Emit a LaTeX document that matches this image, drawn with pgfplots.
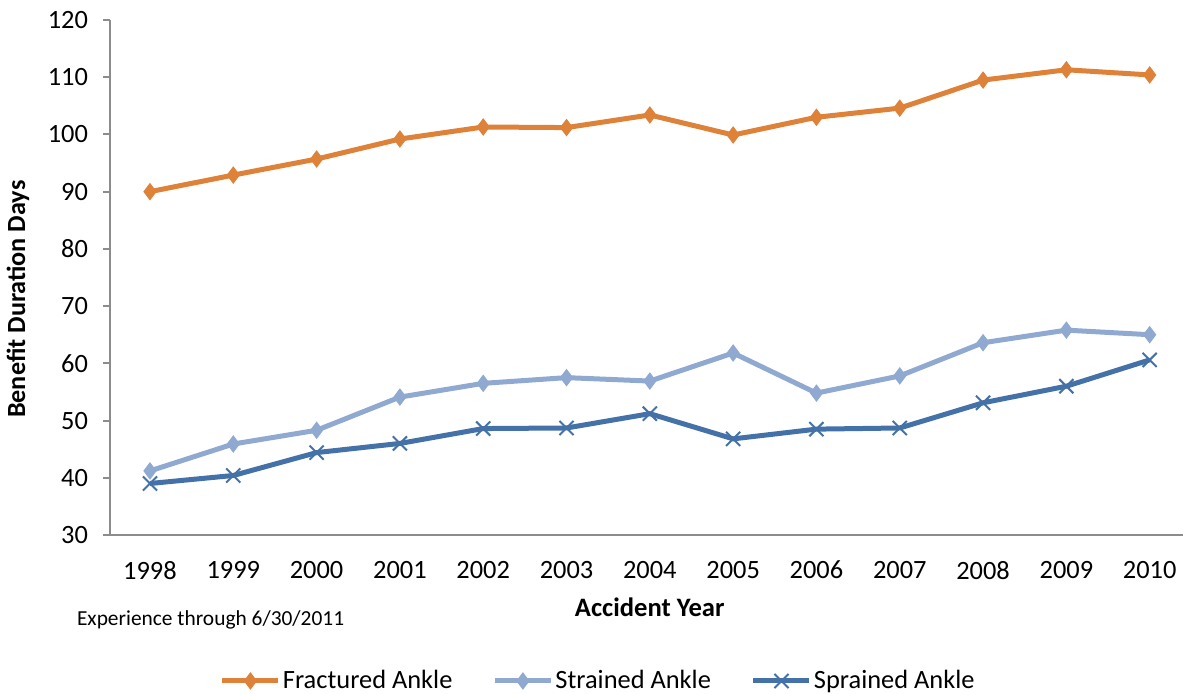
\documentclass[border=0pt]{standalone}
\usepackage{fontspec}
\setmainfont{Carlito}
\usepackage{pgfplots}
\pgfplotsset{compat=1.18}
\definecolor{cOr}{HTML}{DE8139}
\definecolor{cLb}{HTML}{8FA9D1}
\definecolor{cDb}{HTML}{4471A8}
\definecolor{cAx}{HTML}{8C8C8C}
\begin{document}
\begin{tikzpicture}
\begin{axis}[
  at={(0,0)}, anchor=south west, scale only axis,
  width=536.5pt, height=257.5pt,
  xmin=-0.48, xmax=12.4, ymin=30, ymax=120,
  ytick={30,40,...,120},
  xtick={0,...,12},
  xticklabels={1998,1999,2000,2001,2002,2003,2004,2005,2006,2007,2008,2009,2010},
  axis x line*=bottom, axis y line*=left,
  axis line style={cAx, line width=1pt, -},
  tick align=outside, major tick length=3.5pt,
  ytick style={cAx, line width=1pt},
  xtick style={draw=none},
  tick label style={font=\fontsize{13.2}{15}\selectfont, black},
  /pgf/number format/assume math mode=true,
  yticklabel style={xshift=-4pt},
  xticklabel style={yshift=-6pt},
  xlabel={Accident Year},
  ylabel={Benefit Duration Days},
  xlabel style={font=\bfseries\fontsize{13.3}{15}\selectfont, at={(axis description cs:0.503,-0.14)}, anchor=center},
  ylabel style={font=\bfseries\fontsize{13.1}{15}\selectfont, at={(axis description cs:-0.0857,0.458)}, anchor=center},
  clip=false,
  legend columns=3,
  legend style={draw=none, at={(axis description cs:0.455,-0.2835)}, anchor=center,
    font=\fontsize{13.2}{15}\selectfont,
    nodes={inner xsep=1pt},
    /tikz/every even column/.append style={column sep=19pt}},
  legend image code/.code={\draw[#1, mark repeat=2, mark phase=2] plot coordinates {(0pt,0pt)(14pt,0pt)(28pt,0pt)};},
]
\addplot[cOr, line width=2.5pt, mark=diamond*, mark size=4pt, mark options={solid, line width=0.5pt, fill=cOr}] coordinates {
(0,90.0)(1,92.9)(2,95.7)(3,99.2)(4,101.3)(5,101.2)(6,103.4)(7,99.9)(8,103.0)(9,104.6)(10,109.5)(11,111.3)(12,110.4)};
\addlegendentry{Fractured Ankle}
\addplot[cLb, line width=2.5pt, mark=diamond*, mark size=4pt, mark options={solid, line width=0.5pt, fill=cLb}] coordinates {
(0,41.2)(1,45.9)(2,48.3)(3,54.1)(4,56.5)(5,57.5)(6,56.9)(7,61.8)(8,54.8)(9,57.8)(10,63.6)(11,65.8)(12,65.0)};
\addlegendentry{Strained Ankle}
\addplot[cDb, line width=2.5pt, mark=x, mark size=5pt, mark options={solid, line width=1pt}] coordinates {
(0,39.0)(1,40.4)(2,44.4)(3,46.0)(4,48.6)(5,48.7)(6,51.2)(7,46.8)(8,48.5)(9,48.7)(10,53.1)(11,56.0)(12,60.6)};
\addlegendentry{Sprained Ankle}
\node[anchor=west, font=\fontsize{10.7}{12}\selectfont] at (axis description cs:-0.0373,-0.165) {Experience through 6/30/2011};
\end{axis}
\pgfresetboundingbox
\path (-55pt,-79.5pt) rectangle (536.5pt,267.5pt);
\end{tikzpicture}
\end{document}
